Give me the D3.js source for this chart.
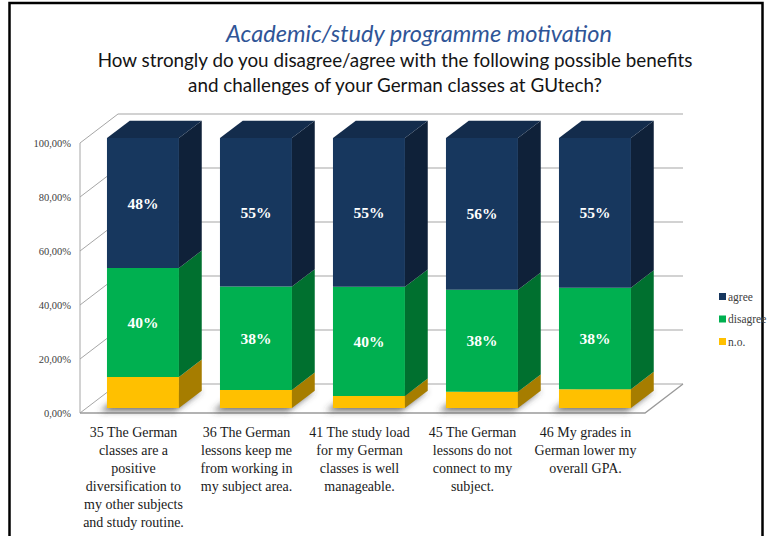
<!DOCTYPE html>
<html>
<head>
<meta charset="utf-8">
<script src="https://cdn.jsdelivr.net/npm/d3@7"></script>
<style>
  html, body { margin: 0; padding: 0; background: #ffffff; }
  svg { display: block; }
</style>
</head>
<body>
<svg id="chart" width="767" height="536"></svg>
<script>
// ---------------- data ----------------
const titleText = "Academic/study programme motivation";
const subtitleLines = [
  "How strongly do you disagree/agree with the following possible benefits",
  "and challenges of your German classes at GUtech?"
];
const categories = [
  "35 The German\nclasses are a\npositive\ndiversification to\nmy other subjects\nand study routine.",
  "36 The German\nlessons keep me\nfrom working in\nmy subject area.",
  "41 The study load\nfor my German\nclasses is well\nmanageable.",
  "45 The German\nlessons do not\nconnect to my\nsubject.",
  "46 My grades in\nGerman lower my\noverall GPA."
];
const seriesNames = ["agree", "disagree", "n.o."];
const noValues       = [11.5, 6.7, 4.5, 6.0, 7.0];
const disagreeValues = [40.4, 38.3, 40.4, 37.8, 37.6];
const agreeValues    = [48.1, 55.0, 55.1, 56.2, 55.4];
const yTickValues = [0, 20, 40, 60, 80, 100];
const yTickLabels = ["0,00%", "20,00%", "40,00%", "60,00%", "80,00%", "100,00%"];

// ---------------- styles ----------------
const colors = {
  "agree":    { front: "#17375e", side: "#0f2139", top: "#132c4c" },
  "disagree": { front: "#00b050", side: "#00702f", top: "#00a049" },
  "n.o.":     { front: "#ffc000", side: "#a67d00", top: "#e6ad00" }
};

const svg = d3.select("#chart");

// frame
svg.append("rect")
  .attr("x", 9.5).attr("y", 3).attr("width", 753).attr("height", 560)
  .attr("fill", "none").attr("stroke", "#000").attr("stroke-width", 2.5);

// ---------------- 3D geometry ----------------
const floorFrontY = 413, floorLeftX = 80, floorRightX = 645;
const depthDX = 38, depthDY = 29;          // full wall depth
const zFront = 0.17, zBack = 0.77;          // bar depth extent (fraction of wall depth)

const x = d3.scaleBand().domain(d3.range(categories.length))
  .range([floorLeftX, floorRightX]).paddingInner(0.363).paddingOuter(0.1815);
const v = d3.scaleLinear().domain([0, 100]).range([0, 270]); // value -> height px

// project (screen x on front plane, value, depth z) -> [sx, sy]
function P(px, val, z) {
  return [px + z * depthDX, floorFrontY - v(val) - z * depthDY];
}
const poly = pts => pts.map(p => p.join(",")).join(" ");

const grid = svg.append("g");
// back wall gridlines
yTickValues.forEach(t => {
  const a = P(floorLeftX, t, 1), b = P(floorRightX, t, 1);
  grid.append("line").attr("x1", a[0]).attr("y1", a[1]).attr("x2", b[0]).attr("y2", b[1])
    .attr("stroke", "#a6a6a6").attr("stroke-width", 1.2);
});
// left wall diagonals
yTickValues.forEach(t => {
  const a = P(floorLeftX, t, 0), b = P(floorLeftX, t, 1);
  grid.append("line").attr("x1", a[0]).attr("y1", a[1]).attr("x2", b[0]).attr("y2", b[1])
    .attr("stroke", "#a6a6a6").attr("stroke-width", 1);
});
// left wall front vertical
{
  const a = P(floorLeftX, 0, 0), b = P(floorLeftX, 100, 0);
  grid.append("line").attr("x1", a[0]).attr("y1", a[1]).attr("x2", b[0]).attr("y2", b[1])
    .attr("stroke", "#a6a6a6").attr("stroke-width", 1);
}
// floor front and right edges
{
  const a = P(floorLeftX, 0, 0), b = P(floorRightX, 0, 0), c = P(floorRightX, 0, 1);
  grid.append("polyline").attr("points", poly([a, b, c]))
    .attr("fill", "none").attr("stroke", "#9a9a9a").attr("stroke-width", 1.3);
}

// y tick labels
svg.append("g").selectAll("text").data(yTickValues).join("text")
  .attr("x", 71).attr("y", d => P(floorLeftX, d, 0)[1] + 3.5)
  .attr("text-anchor", "end")
  .attr("font-family", "Liberation Serif, serif").attr("font-size", 10.5)
  .attr("fill", "#404040")
  .text((d, i) => yTickLabels[i]);

// shadows
const defs = svg.append("defs");
defs.append("filter").attr("id", "blur").attr("x", "-50%").attr("y", "-50%")
  .attr("width", "200%").attr("height", "200%")
  .append("feGaussianBlur").attr("stdDeviation", 3);

const shadowG = svg.append("g").attr("filter", "url(#blur)");
categories.forEach((c, i) => {
  const x0 = x(i) - 7, x1 = x(i) + x.bandwidth() - 4;
  const pts = [P(x0, -1.2, zFront), P(x1, -1.2, zFront), P(x1 + 4, 0, zBack), P(x0 + 4, 0, zBack)];
  shadowG.append("polygon").attr("points", poly(pts)).attr("fill", "#444").attr("opacity", 0.75);
});

// stacked data
const stackData = categories.map((c, i) => ({
  "n.o.": noValues[i], "disagree": disagreeValues[i], "agree": agreeValues[i]
}));
const stack = d3.stack().keys(["n.o.", "disagree", "agree"]);
const layers = stack(stackData);

const barsG = svg.append("g");
categories.forEach((c, i) => {
  const x0 = x(i), x1 = x(i) + x.bandwidth();
  const g = barsG.append("g");
  layers.forEach((layer, li) => {
    const key = layer.key;
    const [lo, hi] = layer[i];
    const col = colors[key];
    // front
    g.append("polygon").attr("points", poly([P(x0, lo, zFront), P(x1, lo, zFront), P(x1, hi, zFront), P(x0, hi, zFront)]))
      .attr("fill", col.front);
    // side
    g.append("polygon").attr("points", poly([P(x1, lo, zFront), P(x1, lo, zBack), P(x1, hi, zBack), P(x1, hi, zFront)]))
      .attr("fill", col.side);
    if (li === layers.length - 1) {
      g.append("polygon").attr("points", poly([P(x0, hi, zFront), P(x1, hi, zFront), P(x1, hi, zBack), P(x0, hi, zBack)]))
        .attr("fill", col.top);
    }
    // labels for agree/disagree
    if (key !== "n.o.") {
      const mid = P((x0 + x1) / 2, (lo + hi) / 2, zFront);
      g.append("text").attr("x", mid[0]).attr("y", mid[1] + 5.5)
        .attr("text-anchor", "middle")
        .attr("font-family", "Liberation Serif, serif").attr("font-weight", "bold")
        .attr("font-size", 15.5).attr("fill", "#ffffff")
        .text(Math.round(hi - lo) + "%");
    }
  });
});

// category labels
const catG = svg.append("g");
categories.forEach((c, i) => {
  const cx = floorLeftX + x.step() * (i + 0.5) - 3;
  const t = catG.append("text").attr("text-anchor", "middle")
    .attr("font-family", "Liberation Serif, serif").attr("font-size", 14).attr("fill", "#1a1a1a");
  c.split("\n").forEach((line, k) => {
    t.append("tspan").attr("x", cx).attr("y", 437 + k * 18).text(line);
  });
});

// legend
const legend = svg.append("g");
seriesNames.forEach((s, i) => {
  const y = 297 + i * 22.5;
  legend.append("rect").attr("x", 719).attr("y", y - 4).attr("width", 7).attr("height", 7)
    .attr("fill", colors[s].front);
  legend.append("text").attr("x", 728).attr("y", y + 3.5)
    .attr("font-family", "Liberation Serif, serif").attr("font-size", 11.5).attr("fill", "#404040")
    .text(s);
});

// titles (fit to measured widths)
function fitText(sel, targetW) {
  const w = sel.node().getComputedTextLength();
  const fs = parseFloat(sel.attr("font-size"));
  sel.attr("font-size", fs * targetW / w);
}
const title = svg.append("text").attr("x", 419).attr("y", 42).attr("text-anchor", "middle")
  .attr("font-family", "Lato, sans-serif").attr("font-style", "italic").attr("font-size", 22)
  .attr("fill", "#2f5597").text(titleText);
fitText(title, 386);
const sub1 = svg.append("text").attr("x", 395).attr("y", 67).attr("text-anchor", "middle")
  .attr("font-family", "Lato, sans-serif").attr("font-size", 18)
  .attr("fill", "#141414").text(subtitleLines[0]);
fitText(sub1, 595);
const sub2 = svg.append("text").attr("x", 395).attr("y", 92).attr("text-anchor", "middle")
  .attr("font-family", "Lato, sans-serif").attr("font-size", sub1.attr("font-size"))
  .attr("fill", "#141414").text(subtitleLines[1]);
</script>
</body>
</html>
